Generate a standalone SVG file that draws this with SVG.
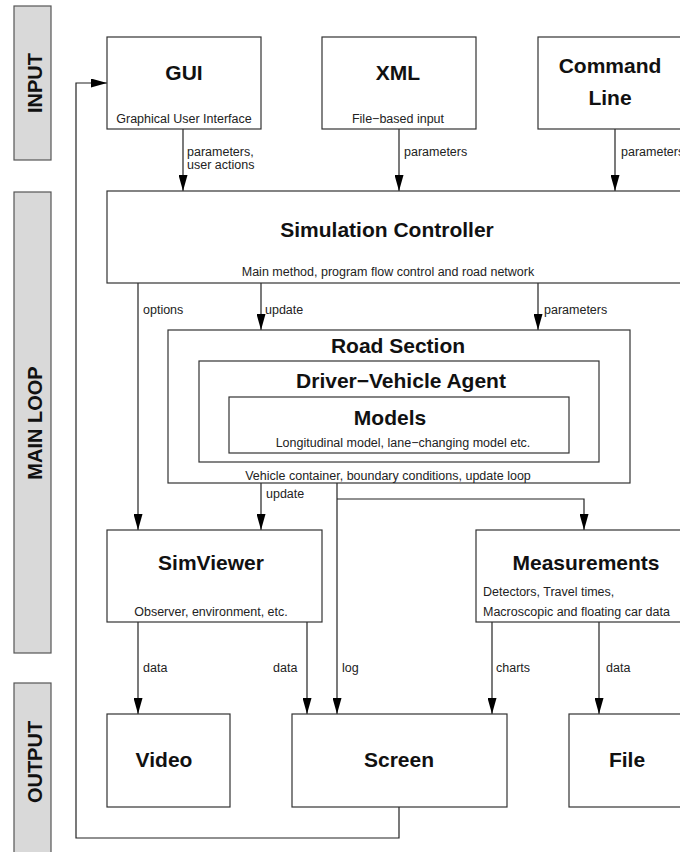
<svg xmlns="http://www.w3.org/2000/svg" width="680" height="852" viewBox="0 0 680 852">
<style>
.box{fill:#fff;stroke:#333;stroke-width:1.2}
.side{fill:#d9d9d9;stroke:#555;stroke-width:1.2}
.sl{font-family:"Liberation Sans",Arial,sans-serif;font-weight:bold;font-size:20px;fill:#111;text-anchor:middle}
.t{font-family:"Liberation Sans",Arial,sans-serif;font-weight:bold;font-size:21px;fill:#111;text-anchor:middle}
.s{font-family:"Liberation Sans",Arial,sans-serif;font-size:12.5px;fill:#222}
.c{text-anchor:middle}
.ln{fill:none;stroke:#222;stroke-width:1.2}
</style>
<defs>
<marker id="ah" markerUnits="userSpaceOnUse" markerWidth="16" markerHeight="9" refX="16" refY="4.5" orient="auto">
<path d="M0,0 L16,4.5 L0,9 z" fill="#000"/>
</marker>
</defs>
<rect width="680" height="852" fill="#fff"/>
<g id="side-input"><rect class="side" x="14" y="6" width="37" height="154"/><text class="sl" transform="translate(42,83) rotate(-90)">INPUT</text></g>
<g id="side-main"><rect class="side" x="14" y="192" width="37" height="461"/><text class="sl" transform="translate(42,423) rotate(-90)">MAIN LOOP</text></g>
<g id="side-output"><rect class="side" x="14" y="683" width="37" height="180"/><text class="sl" transform="translate(42,762) rotate(-90)">OUTPUT</text></g>

<g id="connectors">
<path class="ln" d="M183,129 V191" marker-end="url(#ah)"/>
<path class="ln" d="M399,129 V191" marker-end="url(#ah)"/>
<path class="ln" d="M615,129 V191" marker-end="url(#ah)"/>
<path class="ln" d="M138,283 V530" marker-end="url(#ah)"/>
<path class="ln" d="M261,283 V330" marker-end="url(#ah)"/>
<path class="ln" d="M538,283 V330" marker-end="url(#ah)"/>
<path class="ln" d="M261,483 V530" marker-end="url(#ah)"/>
<path class="ln" d="M337,483 V714" marker-end="url(#ah)"/>
<path class="ln" d="M337,499 H584 V530" marker-end="url(#ah)"/>
<path class="ln" d="M138,622 V714" marker-end="url(#ah)"/>
<path class="ln" d="M307,622 V714" marker-end="url(#ah)"/>
<path class="ln" d="M492,622 V714" marker-end="url(#ah)"/>
<path class="ln" d="M599,622 V714" marker-end="url(#ah)"/>
<path class="ln" d="M399,807 V838 H76 V83 H107" stroke="#444" marker-end="url(#ah)"/>
<text class="s" x="187" y="156">parameters,</text>
<text class="s" x="187" y="169">user actions</text>
<text class="s" x="404" y="156">parameters</text>
<text class="s" x="621" y="156">parameters</text>
<text class="s" x="143" y="314">options</text>
<text class="s" x="265" y="314">update</text>
<text class="s" x="544" y="314">parameters</text>
<text class="s" x="266" y="498">update</text>
<text class="s" x="143" y="672">data</text>
<text class="s" x="273" y="672">data</text>
<text class="s" x="342" y="672">log</text>
<text class="s" x="496" y="672">charts</text>
<text class="s" x="606" y="672">data</text>
</g>

<g id="gui"><rect class="box" x="107" y="37" width="154" height="92"/><text class="t" x="184" y="80">GUI</text><text class="s c" x="184" y="123">Graphical User Interface</text></g>
<g id="xml"><rect class="box" x="322" y="37" width="154" height="92"/><text class="t" x="398" y="80">XML</text><text class="s c" x="398" y="123">File−based input</text></g>
<g id="cmd"><rect class="box" x="538" y="37" width="154" height="92"/><text class="t" x="610" y="73">Command</text><text class="t" x="610" y="105">Line</text></g>

<g id="simctrl"><rect class="box" x="107" y="191" width="590" height="92"/><text class="t" x="387" y="237">Simulation Controller</text><text class="s c" x="388" y="276">Main method, program flow control and road network</text></g>

<g id="road"><rect class="box" x="168" y="330" width="462" height="153"/><text class="t" x="398" y="353">Road Section</text><text class="s c" x="388" y="480">Vehicle container, boundary conditions, update loop</text></g>
<g id="agent"><rect class="box" x="199" y="361" width="400" height="101"/><text class="t" x="401" y="388">Driver−Vehicle Agent</text></g>
<g id="models"><rect class="box" x="229" y="397" width="340" height="56"/><text class="t" x="390" y="425">Models</text><text class="s c" x="403" y="447">Longitudinal model, lane−changing model etc.</text></g>

<g id="simviewer"><rect class="box" x="107" y="530" width="215" height="92"/><text class="t" x="211" y="570">SimViewer</text><text class="s c" x="211" y="616">Observer, environment, etc.</text></g>
<g id="measurements"><rect class="box" x="476" y="530" width="220" height="92"/><text class="t" x="586" y="570">Measurements</text><text class="s" x="483" y="596">Detectors, Travel times,</text><text class="s" x="483" y="616">Macroscopic and floating car data</text></g>

<g id="video"><rect class="box" x="107" y="714" width="123" height="93"/><text class="t" x="164" y="767">Video</text></g>
<g id="screen"><rect class="box" x="292" y="714" width="215" height="93"/><text class="t" x="399" y="767">Screen</text></g>
<g id="file"><rect class="box" x="569" y="714" width="123" height="93"/><text class="t" x="627" y="767">File</text></g>
</svg>
